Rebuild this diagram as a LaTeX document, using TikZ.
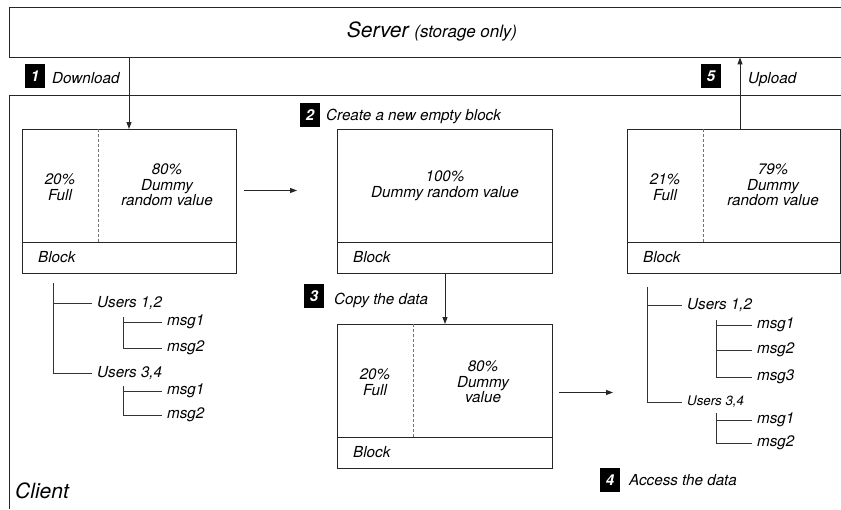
\documentclass[tikz,border=0pt]{standalone}
\usepackage{fontspec}
\setmainfont{TeX Gyre Heros}
\usetikzlibrary{arrows.meta}
\begin{document}
\begin{tikzpicture}[x=1pt,y=-1pt,
  ln/.style={line width=1pt, draw=black!85},
  arr/.style={ln, -{Triangle[length=7pt,width=5pt]}},
  blk/.style={draw=black!85, line width=1pt, minimum width=214pt, minimum height=144pt, anchor=north west, inner sep=0pt},
  lbl/.style={font=\fontsize{15.2}{15.5}\selectfont\itshape, align=center, inner sep=0pt},
  badge/.style={fill=black, text=white, font=\fontsize{15}{15}\selectfont\bfseries\itshape, minimum width=20pt, minimum height=24pt, inner sep=0pt},
  steplbl/.style={lbl, anchor=base west},
  tr/.style={line width=0.9pt, draw=black!80},
  tl/.style={lbl, anchor=west, inner xsep=5pt, inner ysep=0pt},
  dsh/.style={draw=black!55, line width=1pt, dash pattern=on 3pt off 2pt}
]
\useasboundingbox (0,0) rectangle (841,509);
\fill[white] (0,0) rectangle (841,509);

% Server
\node[minimum width=832pt, minimum height=50pt, anchor=north west, inner sep=0pt] (server) at (9,7) {};
\draw[ln] (server.north east) -- (server.north west) -- (server.south west) -- (server.south east);
\node[anchor=base, inner sep=0pt] (stitle) at (432,37) {\fontsize{21}{21}\selectfont\itshape Server \fontsize{17}{17}\selectfont(storage only)};

% Client
\node[minimum width=832pt, minimum height=414pt, anchor=north west, inner sep=0pt] (client) at (9,95) {};
\draw[ln] (client.north east) -- (client.north west) -- (client.south west);
\node[anchor=base west, inner sep=0pt, font=\fontsize{21}{21}\selectfont\itshape] (clbl) at (15,498) {Client};

% Steps
\node[badge] (n1) at (35,76) {1};
\node[steplbl] (s1l) at (52,83) {Download};
\node[badge] (n5) at (711,76) {5};
\node[steplbl] (s5l) at (748,83) {Upload};
\node[badge] (n2) at (310,115) {2};
\node[steplbl] (s2l) at (326,120) {Create a new empty block};
\node[badge] (n3) at (314,296) {3};
\node[steplbl] (s3l) at (334,304) {Copy the data};
\node[badge] (n4) at (610,480) {4};
\node[steplbl] (s4l) at (629,485) {Access the data};

% Block 1
\node[blk] (b1) at (22,129) {};
\draw[ln] (22,242) -- (236,242);
\draw[dsh] (98,129) -- (98,242);
\node[lbl] (b1l) at (60,187) {20\%\\Full};
\node[lbl] (b1r) at (167,185) {80\%\\Dummy\\random value};
\node[lbl, anchor=base west] (b1b) at (38,262) {Block};

% Block 2
\node[blk, minimum width=215pt] (b2) at (337,129) {};
\draw[ln] (337,242) -- (552,242);
\node[lbl] (b2t) at (445,186) {100\%\\Dummy random value};
\node[lbl, anchor=base west] (b2b) at (353,262) {Block};

% Block 3
\node[blk, minimum width=215pt] (b3) at (337,324) {};
\draw[ln] (337,437) -- (552,437);
\draw[dsh] (413,324) -- (413,437);
\node[lbl] (b3l) at (375,382) {20\%\\Full};
\node[lbl] (b3r) at (483,382) {80\%\\Dummy\\value};
\node[lbl, anchor=base west] (b3b) at (353,457) {Block};

% Block 4
\node[blk, minimum width=213pt] (b4) at (627,129) {};
\draw[ln] (627,242) -- (840,242);
\draw[dsh] (703,129) -- (703,242);
\node[lbl] (b4l) at (665,187) {21\%\\Full};
\node[lbl] (b4r) at (773,185) {79\%\\Dummy\\random value};
\node[lbl, anchor=base west] (b4b) at (643,262) {Block};

% Arrows
\coordinate (dl) at (129,0);
\coordinate (ul) at (740,0);
\draw[arr] (server.south -| dl) -- (b1.north -| dl);
\draw[arr] (b4.north -| ul) -- (server.south -| ul);
\draw[arr] (b2.south) -- (b3.north);
\draw[arr, shorten <=7pt, shorten >=40pt] ([yshift=11pt]b1.east) -- ([yshift=11pt]b2.west);

% Left tree
\coordinate (t1) at (53,283);
\node[tl] (u12) at (92,303) {Users 1,2};
\node[tl] (u34) at (92,373) {Users 3,4};
\draw[tr] (t1) |- (u34.west);
\draw[tr] (t1 |- u12.west) -- (u12.west);
\coordinate (sa) at (123,317);
\node[tl] (m11) at (162,322) {msg1};
\node[tl] (m12) at (162,348) {msg2};
\draw[tr] (sa) |- (m12.west);
\draw[tr] (sa |- m11.west) -- (m11.west);
\coordinate (sb) at (123,386);
\node[tl] (m21) at (162,391) {msg1};
\node[tl] (m22) at (162,415) {msg2};
\draw[tr] (sb) |- (m22.west);
\draw[tr] (sb |- m21.west) -- (m21.west);

% Right tree
\coordinate (t2) at (647,287);
\node[tl] (ru12) at (682,305) {Users 1,2};
\node[tl, font=\fontsize{13.3}{14}\selectfont\itshape] (ru34) at (682,402) {Users 3,4};
\draw[tr] (t2) |- (ru34.west);
\draw[tr] (t2 |- ru12.west) -- (ru12.west);
\coordinate (sc) at (716,320);
\node[tl] (rm11) at (752,325) {msg1};
\node[tl] (rm12) at (752,350) {msg2};
\node[tl] (rm13) at (752,377) {msg3};
\draw[tr] (sc) |- (rm13.west);
\draw[tr] (sc |- rm11.west) -- (rm11.west);
\draw[tr] (sc |- rm12.west) -- (rm12.west);
\coordinate (sd) at (716,413);
\node[tl] (rm21) at (752,420) {msg1};
\node[tl] (rm22) at (752,443) {msg2};
\draw[tr] (sd) |- (rm22.west);
\draw[tr] (sd |- rm21.west) -- (rm21.west);

\draw[arr, shorten <=6pt, shorten >=34pt] ([yshift=4pt]b3.east) -- ([yshift=4pt]b3.east -| t2);
\end{tikzpicture}
\end{document}
